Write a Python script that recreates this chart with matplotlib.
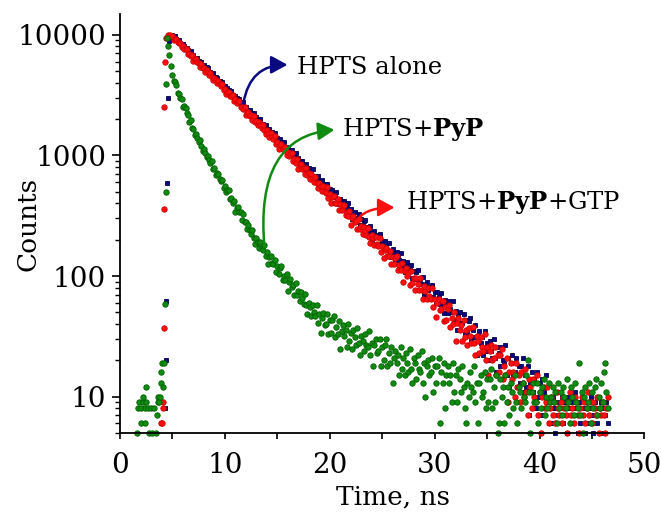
import matplotlib.pyplot as plt
import numpy as np
from matplotlib.ticker import FuncFormatter, MultipleLocator, NullFormatter

plt.rcParams['font.family'] = ['DejaVu Serif']
plt.rcParams['mathtext.fontset'] = 'dejavuserif'

# decay channels start at 5 ns, one value every 0.125 ns (one row = 1 ns)
CHANNEL_START = 5.0
CHANNEL_STEP = 0.125

# HPTS alone
blue_rise_t = [4.31, 4.40, 4.43, 4.50, 4.56, 4.72, 4.85]
blue_rise = [8, 20, 62, 590, 3000, 8800, 9950]
blue_decay = [
    10000, 9540, 9690, 9300, 8950, 9100, 8570, 8170,
    8320, 8040, 7680, 7780, 7430, 7220, 7330, 6770,
    6800, 6360, 6440, 6370, 6050, 5930, 5950, 5520,
    5600, 5290, 5360, 5330, 4880, 4900, 4700, 4780,
    4330, 4430, 4410, 4170, 4140, 3870, 4040, 3750,
    3760, 3500, 3630, 3460, 3300, 3430, 3170, 2990,
    3110, 2990, 2830, 2920, 2760, 2680, 2770, 2490,
    2540, 2300, 2400, 2400, 2230, 2200, 2250, 2010,
    2090, 1950, 2010, 2010, 1790, 1820, 1740, 1800,
    1560, 1650, 1660, 1540, 1550, 1410, 1530, 1380,
    1400, 1290, 1360, 1290, 1220, 1290, 1180, 1100,
    1170, 1110, 1040, 1100, 1025, 990, 1055, 915,
    950, 835, 895, 905, 825, 815, 855, 735,
    785, 715, 755, 765, 655, 680, 640, 680,
    565, 615, 625, 570, 580, 515, 580, 510,
    525, 467, 515, 479, 448, 494, 434, 395,
    439, 416, 382, 417, 381, 368, 402, 335,
    357, 299, 335, 342, 303, 303, 324, 266,
    295, 262, 284, 292, 238, 254, 235, 258,
    199, 228, 237, 210, 217, 184, 222, 186,
    197, 170, 195, 178, 165, 189, 161, 143,
    166, 155, 137, 159, 141, 136, 156, 120,
    134, 107, 125, 130, 112, 112, 123, 96,
    111, 95, 108, 113, 86, 95, 86, 99,
    69, 85, 90, 77, 81, 65, 85, 67,
    74, 60, 74, 67, 59, 73, 59, 49,
    63, 58, 49, 62, 53, 50, 62, 43,
    51, 36, 48, 50, 41, 41, 48, 33,
    43, 34, 42, 45, 29, 36, 31, 39,
    22, 32, 35, 28, 31, 22, 35, 24,
    28, 20, 29, 24, 21, 30, 21, 16,
    26, 23, 18, 26, 20, 19, 27, 15,
    21, 12, 19, 22, 15, 16, 21, 12,
    18, 13, 18, 21, 11, 15, 12, 18,
    7, 13, 16, 11, 14, 8, 16, 10,
    13, 7, 14, 11, 8, 15, 9, 6,
    9, 6, 10, 8, 5, 11, 7, 9,
    8, 10, 6, 9, 7, 5, 10, 8,
    6, 9, 8, 11, 7, 5, 9, 6,
    10, 7, 8, 5, 9, 6, 8, 10,
    7, 5, 9, 8, 6, 10, 7, 9,
    5, 8, 7, 9, 6,
]

# HPTS+PyP+GTP
red_rise_t = [3.95, 4.03, 4.10, 4.12, 4.15, 4.18, 4.24, 4.26, 4.40, 4.60, 4.80]
red_rise = [6, 6, 8, 9, 37, 357, 2510, 5950, 9400, 9900, 9950]
red_decay = [
    9780, 9040, 9250, 9180, 8640, 8490, 8570, 7850,
    8010, 7560, 7650, 7600, 6950, 6980, 6690, 6800,
    6090, 6300, 6290, 5920, 5890, 5450, 5770, 5300,
    5320, 4960, 5140, 4890, 4670, 4840, 4480, 4220,
    4390, 4210, 3990, 4110, 3880, 3760, 3890, 3500,
    3570, 3230, 3370, 3360, 3130, 3080, 3150, 2810,
    2930, 2720, 2800, 2800, 2500, 2540, 2420, 2500,
    2170, 2290, 2300, 2140, 2150, 1950, 2120, 1910,
    1940, 1780, 1880, 1780, 1680, 1780, 1620, 1510,
    1610, 1535, 1430, 1520, 1410, 1360, 1450, 1250,
    1300, 1140, 1230, 1240, 1130, 1115, 1165, 1005,
    1070, 980, 1030, 1040, 895, 925, 870, 925,
    765, 830, 845, 775, 785, 695, 785, 690,
    710, 632, 696, 647, 604, 666, 585, 532,
    592, 559, 510, 563, 511, 492, 543, 446,
    479, 400, 449, 459, 406, 405, 434, 355,
    394, 351, 379, 389, 318, 338, 314, 344,
    265, 303, 315, 279, 288, 244, 295, 247,
    260, 224, 257, 236, 217, 249, 211, 187,
    219, 205, 182, 210, 186, 178, 206, 159,
    176, 140, 164, 170, 147, 147, 161, 126,
    145, 125, 140, 147, 112, 123, 112, 129,
    90, 110, 116, 101, 105, 85, 111, 88,
    96, 77, 96, 86, 77, 96, 76, 64,
    82, 75, 64, 79, 68, 64, 79, 55,
    65, 46, 60, 64, 52, 53, 62, 42,
    55, 43, 53, 57, 38, 45, 40, 50,
    29, 41, 45, 36, 39, 29, 43, 31,
    36, 27, 37, 32, 28, 38, 28, 22,
    32, 29, 23, 31, 26, 24, 33, 20,
    26, 15, 24, 27, 20, 21, 26, 15,
    22, 16, 22, 25, 14, 18, 15, 21,
    9, 16, 19, 14, 16, 10, 19, 12,
    15, 9, 16, 13, 10, 17, 11, 7,
    14, 12, 8, 14, 10, 9, 15, 7,
    11, 5, 10, 12, 8, 9, 12, 6,
    8, 10, 7, 9, 6, 11, 8, 7,
    9, 6, 10, 8, 7, 5, 9, 11,
    7, 8, 6, 10, 9, 7, 5, 8,
    10, 7, 9, 6, 8, 11, 7, 9,
    6, 9, 8, 7, 10, 5, 8, 7,
    9, 7, 5, 8, 10,
]

# HPTS+PyP
green_rise_t = [1.60, 1.70, 1.86, 2.02, 2.02, 2.18, 2.18, 2.34, 2.34, 2.50,
                2.50, 2.65, 2.80, 2.97, 3.10, 3.29, 3.40, 3.55, 3.60, 3.60,
                3.75, 3.86, 3.87, 3.93, 4.00, 4.10, 4.20, 4.30, 4.35, 4.40,
                4.45, 4.56, 4.72, 4.88]
green_rise = [5, 8, 9, 8, 6, 9, 10, 8, 6, 9,
              12, 8, 5, 8, 5, 8, 5, 7, 10, 9,
              9, 10, 13, 16, 19, 12, 19, 59, 500, 3890,
              9400, 8000, 6830, 5460]
green_decay = [
    4650, 4150, 4030, 3830, 3290, 3220, 2970, 2950,
    2520, 2550, 2480, 2240, 2170, 1910, 1950, 1700,
    1650, 1470, 1515, 1390, 1285, 1335, 1190, 1085,
    1125, 1055, 968, 997, 912, 868, 902, 778,
    793, 688, 718, 706, 634, 614, 623, 532,
    553, 497, 515, 513, 434, 441, 407, 422,
    342, 369, 373, 337, 338, 293, 325, 278,
    282, 246, 265, 241, 221, 240, 207, 186,
    205, 191, 172, 190, 170, 163, 180, 146,
    157, 127, 144, 147, 128, 126, 136, 108,
    121, 104, 116, 120, 93, 101, 93, 104,
    75, 89, 94, 81, 85, 69, 87, 70,
    75, 62, 74, 66, 59, 71, 57, 48,
    60, 55, 47, 58, 50, 47, 57, 41,
    48, 34, 45, 49, 39, 40, 48, 33,
    43, 34, 43, 47, 31, 38, 33, 42,
    25, 35, 39, 32, 36, 26, 40, 29,
    34, 25, 36, 31, 27, 37, 28, 22,
    32, 29, 24, 33, 27, 26, 35, 22,
    28, 18, 27, 30, 23, 24, 30, 18,
    26, 20, 27, 30, 18, 23, 19, 26,
    13, 21, 24, 19, 22, 15, 26, 17,
    21, 15, 23, 19, 16, 25, 17, 13,
    21, 19, 14, 22, 17, 16, 24, 13,
    19, 10, 18, 20, 15, 16, 21, 11,
    18, 13, 18, 21, 6, 16, 13, 19,
    8, 15, 18, 13, 15, 9, 19, 11,
    15, 9, 17, 14, 11, 18, 12, 8,
    6, 13, 10, 16, 12, 11, 18, 9,
    13, 6, 13, 15, 10, 11, 16, 8,
    14, 9, 14, 17, 8, 12, 9, 15,
    5, 6, 14, 10, 12, 6, 15, 9,
    12, 7, 13, 11, 8, 15, 9, 6,
    12, 11, 8, 13, 10, 9, 15, 20,
    11, 5, 11, 13, 9, 9, 13, 6,
    11, 8, 12, 14, 7, 10, 8, 13,
    9, 10, 12, 9, 11, 6, 13, 8,
    11, 7, 12, 10, 8, 14, 9, 6,
    12, 10, 7, 13, 9, 8, 19, 7,
    11, 5, 10, 12, 8, 9, 13, 6,
    11, 8, 12, 14, 7, 10, 8, 13,
    9, 16, 19, 11, 8,
]

NAVY = '#0a0a80'
RED = '#ff1010'
GREEN = '#118a11'


def channel_times(values):
    return CHANNEL_START + CHANNEL_STEP * np.arange(len(values))


fig = plt.figure(figsize=(6.61, 5.14), dpi=100)
ax = fig.add_axes([0.1815, 0.157, 0.7935, 0.816])

series = [
    (blue_rise_t, blue_rise, blue_decay, NAVY, '#000050', 's', 3.5),
    (red_rise_t, red_rise, red_decay, RED, '#d00000', 'o', 3.9),
    (green_rise_t, green_rise, green_decay, GREEN, '#006000', 'o', 3.9),
]
for rise_t, rise_c, decay_c, color, edge, marker, size in series:
    t = np.concatenate([rise_t, channel_times(decay_c)])
    c = np.concatenate([rise_c, decay_c])
    ax.plot(t, c, linestyle='none', marker=marker, ms=size, mfc=color,
            mec=edge, mew=0.6, clip_on=False)

ax.set_yscale('log')
ax.set_xlim(0, 50)
ax.set_ylim(4.97, 14900)
ax.yaxis.set_major_formatter(FuncFormatter(lambda v, p: f'{v:.0f}'))
ax.yaxis.set_minor_formatter(NullFormatter())
ax.xaxis.set_major_locator(MultipleLocator(10))
ax.xaxis.set_minor_locator(MultipleLocator(5))

for side in ['top', 'right']:
    ax.spines[side].set_visible(False)
for side in ['left', 'bottom']:
    ax.spines[side].set_linewidth(1.3)

ax.tick_params(axis='both', which='major', labelsize=20, width=1.2, direction='out')
ax.tick_params(axis='y', which='major', length=6, pad=4)
ax.tick_params(axis='y', which='minor', length=3.5, width=1.0)
ax.tick_params(axis='x', which='both', length=4.5, width=1.2, direction='out')
ax.tick_params(axis='x', which='major', pad=9)

ax.set_xlabel('Time, ns', fontsize=19)
ax.set_ylabel('Counts', fontsize=19)
ax.xaxis.set_label_coords(0.52, -0.122)
ax.yaxis.set_label_coords(-0.152, 0.5)

# labels with curved arrows
labels = [
    ('HPTS alone', (11.77, 2730), (15.97, 5640), (16.9, 5320), NAVY, 'angle3,angleA=80,angleB=0'),
    (r'HPTS+$\mathbf{PyP}$', (13.77, 174), (20.45, 1630), (21.2, 1630), GREEN, 'angle3,angleA=95,angleB=5'),
    (r'HPTS+$\mathbf{PyP}$+GTP', (22.45, 271), (26.17, 370), (27.3, 404), RED, 'angle3,angleA=70,angleB=0'),
]
for text, start, end, pos, color, conn in labels:
    ax.annotate('', xy=end, xytext=start,
                arrowprops=dict(arrowstyle='-|>,head_length=0.55,head_width=0.3',
                                color=color, lw=1.8, mutation_scale=18,
                                connectionstyle=conn, shrinkA=0, shrinkB=0))
    ax.text(pos[0], pos[1], text, fontsize=17.5, ha='left', va='center')

fig.savefig('out.png', dpi=100)
